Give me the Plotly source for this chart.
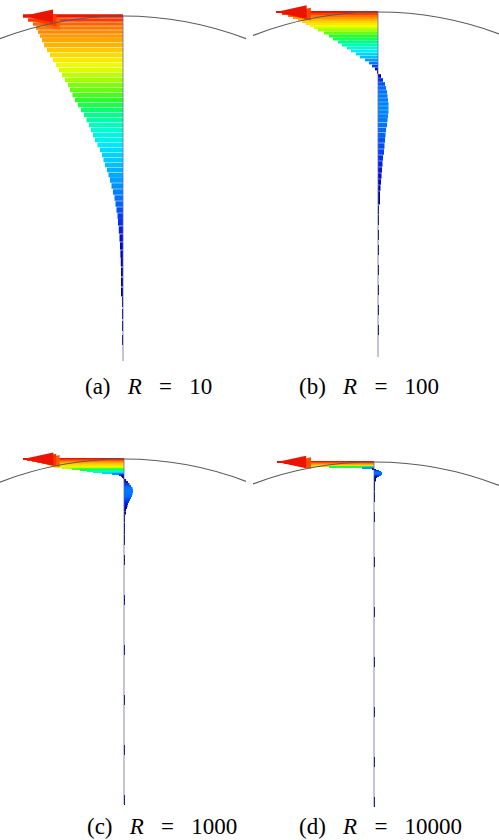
import plotly.graph_objects as go
from plotly.colors import sample_colorscale

# ---------------- data ----------------
# depth below the surface (plot units, sphere radius = R0) and horizontal
# velocity (positive = towards the left), one entry per arrow
R0 = 345

depth_a = [0, 4, 8, 12, 16, 20, 24, 29, 34, 39, 44, 49, 54, 59, 64, 69, 74, 79, 84, 89,
           94, 99, 104, 109, 114, 119, 124, 129, 134, 139, 144, 149, 154, 159, 164, 170,
           176, 182, 188, 194, 200, 206, 214, 222, 230, 238, 246, 256, 266, 276, 286,
           298, 310, 324]
vel_a = [100, 95, 90, 87, 85, 83, 81, 79, 76, 73, 70, 67, 64, 61, 58, 55, 53, 50.5, 48, 45,
         42, 39, 36.5, 34, 32, 30, 28, 25.5, 23, 21, 19.5, 18, 16, 14.5, 13, 11.5,
         10, 8.5, 7.5, 6.5, 5.5, 5, 4.2, 3.5, 3, 2.6, 2.2, 1.8, 1.5, 1.2, 1,
         0.8, 0.6, 0.4]

depth_b = [0, 2, 4, 6, 8, 10, 12, 14, 16, 18, 21, 24, 27, 30, 33, 36, 39, 42, 45, 48, 51,
           54, 57, 60, 64, 68, 72, 76, 80, 84, 88, 92, 96, 100, 104, 108, 113, 118, 123,
           128, 134, 140, 146, 152, 158, 164, 170, 176, 182, 188, 198, 208, 223, 238,
           258, 278, 298, 318]
vel_b = [102, 96, 90, 85, 80, 76, 72, 68, 64, 60, 54, 49, 45, 40, 36, 31, 27, 22, 18, 13, 9,
         6, 3, 0.5, -3, -5, -7, -8, -9, -9.5, -10, -10.5, -10.5, -10.5, -10, -9.5, -9, -8,
         -7.5, -7, -6.5, -6, -5, -4.5, -4, -3.5, -3, -2.5, -2, -1.5, -1, -0.8, -0.6, -0.5,
         -0.4, -0.3, -0.3, -0.2]

depth_c = [0, 1, 2, 3, 4, 5, 6, 7, 8, 9, 10, 11, 12, 13, 14, 15, 16, 17, 18, 19, 21, 23, 25,
           27, 29, 31, 33, 35, 37, 39, 41, 43, 45, 47, 49, 51, 54, 57, 61, 66, 71, 81, 101,
           141, 191, 241, 291, 341]
vel_c = [101, 97, 92, 87, 82, 78, 75, 73, 70, 62, 52, 44, 37, 31, 22, 12, 5, 3, 1.5, 0.5,
         -2, -4, -5.5, -7, -8.5, -9, -9, -8.5, -8, -7, -6, -5, -4, -3.5, -3, -2, -1.5, -1,
         -0.8, -0.6, -0.5, -0.4, -0.3, -0.3, -0.2, -0.2, -0.2, -0.1]

depth_d = [0, 1, 2, 3, 4, 5, 6, 7, 8, 9, 10, 11, 12, 13, 14, 15, 16, 18, 21, 25, 35, 55,
           100, 150, 200, 250, 300, 340]
vel_d = [97, 90, 84, 78, 72, 45, 12, 2, -2, -5, -7, -8, -8, -7, -5, -3, -2, -1.2, -0.8,
         -0.5, -0.4, -0.3, -0.2, -0.2, -0.2, -0.2, -0.1, -0.1]

labels = ["(a)", "(b)", "(c)", "(d)"]
R_values = ["10", "100", "1000", "10000"]

# ---------------- style ----------------
W, H = 499, 840
CS = [
    [0.000, "rgb(0,0,120)"], [0.015, "rgb(0,0,160)"], [0.03, "rgb(0,0,210)"],
    [0.05, "rgb(0,50,240)"], [0.08, "rgb(0,110,255)"], [0.13, "rgb(0,160,255)"],
    [0.20, "rgb(0,205,255)"], [0.26, "rgb(0,235,250)"], [0.33, "rgb(0,255,200)"],
    [0.40, "rgb(0,255,130)"], [0.48, "rgb(40,255,40)"], [0.57, "rgb(150,255,0)"],
    [0.66, "rgb(240,255,0)"], [0.74, "rgb(255,215,0)"], [0.82, "rgb(255,160,0)"],
    [0.90, "rgb(255,100,0)"], [0.96, "rgb(255,50,0)"], [1.00, "rgb(235,20,0)"],
]

# pixel boxes of the panels: (left, right, top, bottom), axis x-position, surface y
panels = [
    dict(depth=depth_a, vel=vel_a, box=(0, 246, 0, 362), cx=123, top=16, lab=(83, 387)),
    dict(depth=depth_b, vel=vel_b, box=(253, 499, 0, 362), cx=378, top=12, lab=(297, 387)),
    dict(depth=depth_c, vel=vel_c, box=(0, 246, 440, 812), cx=124, top=459, lab=(85, 826)),
    dict(depth=depth_d, vel=vel_d, box=(253, 499, 440, 812), cx=374, top=462, lab=(297, 826)),
]

fig = go.Figure()
shapes = []
annotations = []
layout = {}

for k, p in enumerate(panels):
    sfx = "" if k == 0 else str(k + 1)
    xa, ya = "x" + sfx, "y" + sfx
    d, v = p["depth"], p["vel"]
    vmax = max(abs(t) for t in v)
    cval = [abs(t) / vmax for t in v]
    widths = []
    for i in range(len(d)):
        gap = d[i + 1] - d[i] if i < len(d) - 1 else d[i] - d[i - 1]
        widths.append(min(max(gap * 0.92, 1.5), 10))
    fig.add_trace(go.Bar(
        orientation="h", y=d, x=[-t for t in v], base=0, width=widths,
        marker=dict(color=cval, colorscale=CS, cmin=0, cmax=1, line=dict(width=0)),
        xaxis=xa, yaxis=ya, hoverinfo="skip", showlegend=False,
    ))
    # arrow heads of the strongest arrows (deepest drawn first)
    heads = [i for i in range(len(v)) if v[i] > 0 and abs(v[i]) >= 0.89 * vmax]
    for i in reversed(heads):
        L = v[i]
        col = sample_colorscale(CS, [abs(L) / vmax])[0]
        fig.add_trace(go.Scatter(
            x=[-L, -0.7 * L, -0.7 * L, -L],
            y=[d[i], d[i] - 0.065 * L, d[i] + 0.065 * L, d[i]],
            mode="lines", fill="toself", fillcolor=col, line=dict(width=0, color=col),
            xaxis=xa, yaxis=ya, hoverinfo="skip", showlegend=False,
        ))
    l, r, t, b = p["box"]
    axis_common = dict(visible=False, showgrid=False, zeroline=False, fixedrange=True)
    layout["xaxis" + sfx] = dict(domain=[l / W, r / W], range=[l - p["cx"], r - p["cx"]],
                                 anchor=ya, **axis_common)
    layout["yaxis" + sfx] = dict(domain=[1 - b / H, 1 - t / H],
                                 range=[b - p["top"], t - p["top"]],
                                 anchor=xa, **axis_common)
    # sphere outline
    shapes.append(dict(type="circle", xref=xa, yref=ya, x0=-R0, x1=R0, y0=0, y1=2 * R0,
                       line=dict(color="#5a5a5a", width=1.1), layer="above"))
    # radial profile axis
    shapes.append(dict(type="line", xref=xa, yref=ya, x0=0, x1=0, y0=0, y1=R0,
                       line=dict(color="rgba(95,100,150,0.75)", width=1), layer="above"))
    sp = "&nbsp;"
    annotations.append(dict(
        xref="paper", yref="paper", x=p["lab"][0] / W, y=1 - p["lab"][1] / H,
        xanchor="left", yanchor="middle", showarrow=False,
        text=labels[k] + sp * 3 + "<i>R</i>" + sp * 3 + "=" + sp * 3 + R_values[k],
        font=dict(family="Liberation Serif, Times New Roman, serif", size=23, color="black"),
    ))

fig.update_layout(
    width=W, height=H, margin=dict(l=0, r=0, t=0, b=0),
    paper_bgcolor="white", plot_bgcolor="white", showlegend=False,
    shapes=shapes, annotations=annotations, **layout,
)

fig.write_html("out.html", config={"displayModeBar": False},
               post_script="document.body.style.margin='0';document.body.style.padding='0';")
